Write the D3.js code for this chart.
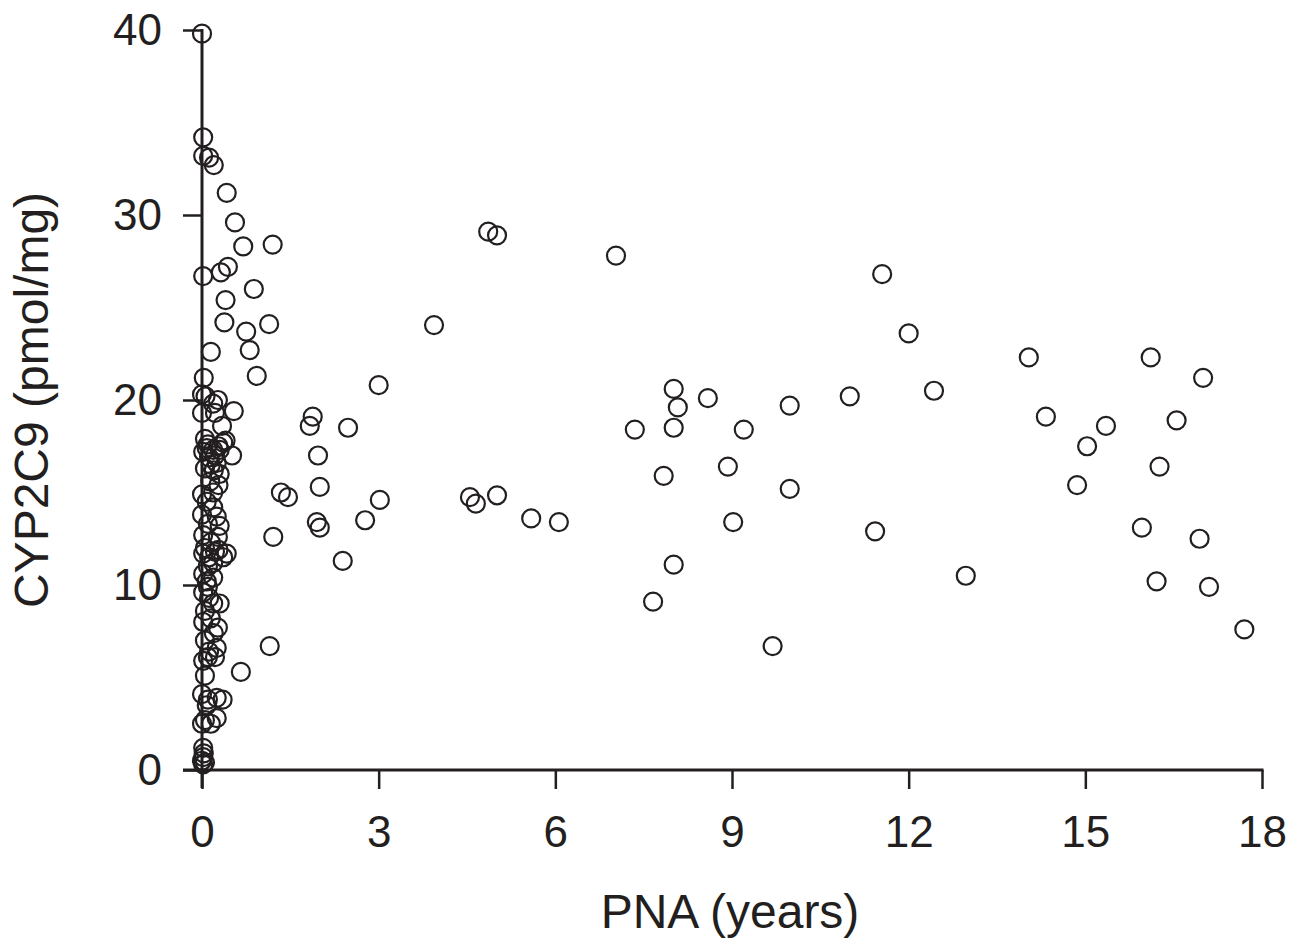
<!DOCTYPE html>
<html><head><meta charset="utf-8">
<script src="https://cdn.jsdelivr.net/npm/d3@7"></script>
<style>body{margin:0;background:#fff}svg{display:block}</style>
</head><body>
<svg id="chart" width="1304" height="947"></svg>
<script>
const pnaYears = [
0.00,0.02,0.02,0.12,0.20,0.42,0.56,0.70,0.44,0.32,0.02,0.88,0.40,0.38,0.75,0.81,0.15,0.93,0.03,0.00,
0.06,0.27,0.19,0.54,0.00,0.22,0.34,0.05,0.36,0.40,0.10,0.19,0.28,0.02,0.51,0.25,0.12,0.05,0.30,0.20,
0.14,0.28,0.00,0.19,0.08,0.19,0.00,0.25,0.10,0.30,0.02,0.27,0.15,0.42,0.02,0.19,0.36,0.28,0.10,0.02,
0.19,0.10,0.02,0.19,0.30,0.02,0.15,0.27,0.05,0.25,0.12,0.02,0.22,0.05,0.00,0.25,0.10,0.35,0.05,0.25,
0.15,0.02,0.02,0.00,0.05,0.03,0.08,0.22,0.30,0.15,0.05,0.12,0.22,0.08,0.12,0.05,0.20,0.10,0.08,0.00,
0.02,
1.20,1.14,1.21,1.15,0.66,1.34,1.46,1.83,1.88,1.97,2.00,1.95,2.00,2.48,2.39,2.77,3.00,3.02,3.94,4.55,
4.65,4.86,5.01,5.01,5.59,6.06,7.03,7.35,7.66,7.84,8.01,8.01,8.08,8.01,8.59,8.93,9.02,9.20,9.69,9.98,
9.98,11.00,11.43,11.55,12.00,12.43,12.97,14.04,14.33,14.86,15.03,15.35,15.96,16.11,16.21,16.26,16.55,16.94,17.00,17.10,
17.70
];
const cyp2c9 = [
39.8,34.2,33.2,33.1,32.7,31.2,29.6,28.3,27.2,26.9,26.7,26.0,25.4,24.2,23.7,22.7,22.6,21.3,21.2,20.3,
20.2,20.0,19.8,19.4,19.3,19.3,18.6,17.9,17.7,17.8,17.6,17.3,17.5,17.2,17.0,16.6,16.9,16.3,16.0,16.2,
15.6,15.4,14.9,15.0,14.5,14.2,13.8,13.7,13.3,13.2,12.7,12.6,12.3,11.7,11.7,11.2,11.5,11.9,11.0,10.6,
10.4,9.9,9.6,9.0,9.0,8.0,8.2,7.7,7.0,6.6,6.4,5.9,6.1,5.1,4.1,3.9,3.8,3.8,2.7,2.8,
2.5,1.2,0.7,0.5,0.4,0.9,17.4,17.0,17.3,16.5,12.0,11.5,11.8,10.2,9.3,8.6,7.4,6.1,3.5,2.5,
0.3,
28.4,24.1,12.6,6.7,5.3,15.0,14.75,18.6,19.1,17.0,15.3,13.4,13.1,18.5,11.3,13.5,20.8,14.6,24.05,14.75,
14.4,29.1,28.9,14.85,13.6,13.4,27.8,18.4,9.1,15.9,20.6,18.5,19.6,11.1,20.1,16.4,13.4,18.4,6.7,19.7,
15.2,20.2,12.9,26.8,23.6,20.5,10.5,22.3,19.1,15.4,17.5,18.6,13.1,22.3,10.2,16.4,18.9,12.5,21.2,9.9,
7.6
];
const xTicks = [0,3,6,9,12,15,18];
const yTicks = [0,10,20,30,40];
const xTitle = "PNA (years)";
const yTitle = "CYP2C9 (pmol/mg)";

const svg = d3.select("#chart");
const font = "'Liberation Sans', Arial, sans-serif";
const x = d3.scaleLinear().domain([0,18]).range([202,1262]);
const y = d3.scaleLinear().domain([0,40]).range([770,30]);
const ink = "#231f20";

// x axis
const gx = svg.append("g").attr("transform","translate(0,770)")
  .call(d3.axisBottom(x).tickValues(xTicks).tickSize(19).tickSizeOuter(0).tickPadding(27));
gx.select(".domain").attr("d","M183,0H1263.5").attr("stroke",ink).attr("stroke-width",3);
gx.selectAll(".tick line").attr("stroke",ink).attr("stroke-width",2.5);
gx.selectAll(".tick text").attr("font-family",font).attr("font-size",44).attr("fill",ink);

// y axis
const gy = svg.append("g").attr("transform","translate(202,0)")
  .call(d3.axisLeft(y).tickValues(yTicks).tickSize(19).tickSizeOuter(0).tickPadding(21));
gy.select(".domain").attr("d","M0,29V788").attr("stroke",ink).attr("stroke-width",3);
gy.selectAll(".tick line").attr("stroke",ink).attr("stroke-width",2.5);
gy.selectAll(".tick text").attr("font-family",font).attr("font-size",44).attr("fill",ink);

// points
const pts = pnaYears.map((v,i)=>({x:v,y:cyp2c9[i]}));
svg.append("g").selectAll("circle").data(pts).join("circle")
  .attr("cx",d=>x(d.x)).attr("cy",d=>y(d.y)).attr("r",9)
  .attr("fill","none").attr("stroke",ink).attr("stroke-width",2.2);

// titles
svg.append("text").attr("x",730).attr("y",928).attr("text-anchor","middle")
  .attr("font-family",font).attr("font-size",48).attr("fill",ink).text(xTitle);
svg.append("text").attr("transform","translate(48,400) rotate(-90)").attr("text-anchor","middle")
  .attr("font-family",font).attr("font-size",48).attr("fill",ink).text(yTitle);
</script>
</body></html>
